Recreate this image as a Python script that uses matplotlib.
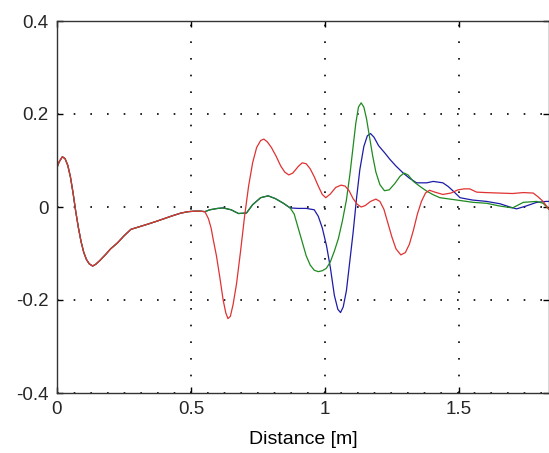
import numpy as np
import matplotlib.pyplot as plt

# shared start of all three traces (distance [m], value)
x_common = [0.0, 0.008, 0.02, 0.03, 0.04, 0.05, 0.06, 0.07, 0.08, 0.09, 0.1, 0.11, 0.12, 0.133,
            0.145, 0.16, 0.18, 0.2, 0.226, 0.25, 0.276, 0.31, 0.338, 0.37, 0.40, 0.43, 0.463,
            0.49, 0.513, 0.535, 0.552]
y_common = [0.085, 0.097, 0.108, 0.104, 0.09, 0.065, 0.03, -0.01, -0.045, -0.075, -0.098, -0.113,
            -0.122, -0.127, -0.123, -0.115, -0.103, -0.09, -0.077, -0.062, -0.048, -0.042, -0.037,
            -0.031, -0.025, -0.019, -0.013, -0.01, -0.009, -0.009, -0.01]

# red trace after it splits off
x_red = [0.565, 0.575, 0.583, 0.595, 0.607, 0.62, 0.63, 0.638, 0.647, 0.657, 0.67, 0.685, 0.70,
         0.715, 0.73, 0.745, 0.76, 0.772, 0.785, 0.80, 0.817, 0.835, 0.85, 0.865, 0.88, 0.90,
         0.915, 0.93, 0.945, 0.96, 0.975, 0.99, 1.003, 1.02, 1.04, 1.06, 1.075, 1.09, 1.105,
         1.12, 1.135, 1.15, 1.17, 1.19, 1.205, 1.22, 1.235, 1.25, 1.265, 1.283, 1.30, 1.315,
         1.33, 1.345, 1.36, 1.375, 1.39, 1.41, 1.44, 1.47, 1.497, 1.52, 1.54, 1.566, 1.6,
         1.65, 1.7, 1.74, 1.777, 1.795, 1.814, 1.836]
y_red = [-0.025, -0.045, -0.07, -0.105, -0.149, -0.2, -0.228, -0.24, -0.235, -0.21, -0.165, -0.095,
         -0.02, 0.045, 0.095, 0.128, 0.143, 0.146, 0.14, 0.128, 0.11, 0.088, 0.075, 0.069, 0.073,
         0.087, 0.095, 0.093, 0.082, 0.065, 0.045, 0.027, 0.02, 0.028, 0.042, 0.047, 0.045, 0.035,
         0.018, 0.006, 0.0, 0.003, 0.012, 0.017, 0.012, -0.005, -0.035, -0.065, -0.09, -0.103,
         -0.098, -0.08, -0.05, -0.015, 0.012, 0.03, 0.036, 0.032, 0.027, 0.03, 0.037, 0.039, 0.039,
         0.032, 0.031, 0.03, 0.029, 0.031, 0.03, 0.022, 0.012, -0.005]

# section shared by green and blue
x_gb = [0.57, 0.6, 0.62, 0.65, 0.677, 0.707, 0.73, 0.76, 0.788, 0.815, 0.845, 0.87]
y_gb = [-0.006, -0.003, -0.002, -0.006, -0.014, -0.013, 0.005, 0.02, 0.024, 0.018, 0.008, -0.002]

x_green = [0.885, 0.90, 0.915, 0.93, 0.945, 0.96, 0.975, 0.99, 1.005, 1.02, 1.035, 1.05, 1.065,
           1.08, 1.093, 1.105, 1.115, 1.125, 1.135, 1.145, 1.155, 1.165, 1.178, 1.19, 1.205,
           1.222, 1.24, 1.26, 1.28, 1.295, 1.31, 1.33, 1.355, 1.38, 1.405, 1.429, 1.479, 1.553,
           1.603, 1.653, 1.70, 1.74, 1.79, 1.814, 1.836]
y_green = [-0.015, -0.045, -0.075, -0.105, -0.125, -0.136, -0.139, -0.137, -0.132, -0.118, -0.095,
           -0.068, -0.03, 0.015, 0.07, 0.13, 0.18, 0.215, 0.224, 0.215, 0.19, 0.155, 0.11, 0.075,
           0.048, 0.035, 0.037, 0.05, 0.066, 0.073, 0.069, 0.055, 0.044, 0.034, 0.026, 0.02, 0.016,
           0.01, 0.008, 0.002, -0.002, 0.01, 0.012, 0.008, -0.005]

x_blue = [0.9, 0.93, 0.96, 0.975, 0.99, 1.006, 1.02, 1.035, 1.048, 1.058, 1.068, 1.08, 1.092,
          1.105, 1.118, 1.13, 1.145, 1.158, 1.17, 1.183, 1.2, 1.225, 1.243, 1.265, 1.292, 1.315,
          1.342, 1.38, 1.404, 1.44, 1.46, 1.479, 1.504, 1.55, 1.603, 1.653, 1.69, 1.715, 1.75,
          1.79, 1.826, 1.84]
y_blue = [-0.003, -0.003, -0.006, -0.02, -0.045, -0.084, -0.13, -0.19, -0.22, -0.227, -0.215,
          -0.18, -0.12, -0.055, 0.02, 0.08, 0.13, 0.153, 0.158, 0.15, 0.132, 0.115, 0.102, 0.088,
          0.073, 0.062, 0.052, 0.052, 0.055, 0.052, 0.044, 0.034, 0.02, 0.015, 0.012, 0.007, 0.0,
          -0.004, 0.002, 0.01, 0.012, 0.012]

red_x = x_common + x_red
red_y = y_common + y_red
green_x = x_common + x_gb + x_green
green_y = y_common + y_gb + y_green
blue_x = x_common + x_gb + x_blue
blue_y = y_common + y_gb + y_blue

plt.rcParams['font.family'] = ['Liberation Sans', 'DejaVu Sans']
plt.rcParams['text.color'] = '#262626'
plt.rcParams['xtick.labelcolor'] = '#262626'
plt.rcParams['ytick.labelcolor'] = '#262626'

fig = plt.figure(figsize=(5.49, 4.53), dpi=100)
ax = fig.add_axes([57 / 549, 60 / 453, 492 / 549, 372 / 453])

ax.plot(blue_x, blue_y, color='#1c1ca8', lw=0.9)
ax.plot(green_x, green_y, color='#1f8a1f', lw=0.9)
ax.plot(red_x, red_y, color='#e03232', lw=0.9)

ax.set_xlim(0, 1.836)
ax.set_ylim(-0.4, 0.4)
ax.set_xticks([0, 0.5, 1, 1.5])
ax.set_xticklabels(['0', '0.5', '1', '1.5'])
ax.set_yticks([-0.4, -0.2, 0, 0.2, 0.4])
ax.set_yticklabels(['-0.4', '-0.2', '0', '0.2', '0.4'])
ax.tick_params(direction='in', top=True, right=True, length=4, width=1,
               labelsize=13.5, pad=6)
ax.grid(True, color='black', linestyle=(0, (1, 9)), linewidth=1.2)
for s in ax.spines.values():
    s.set_linewidth(1.0)
    s.set_color('#333333')
ax.set_xlabel('Distance [m]', fontsize=14, labelpad=9)

fig.savefig('out.png', dpi=100)
